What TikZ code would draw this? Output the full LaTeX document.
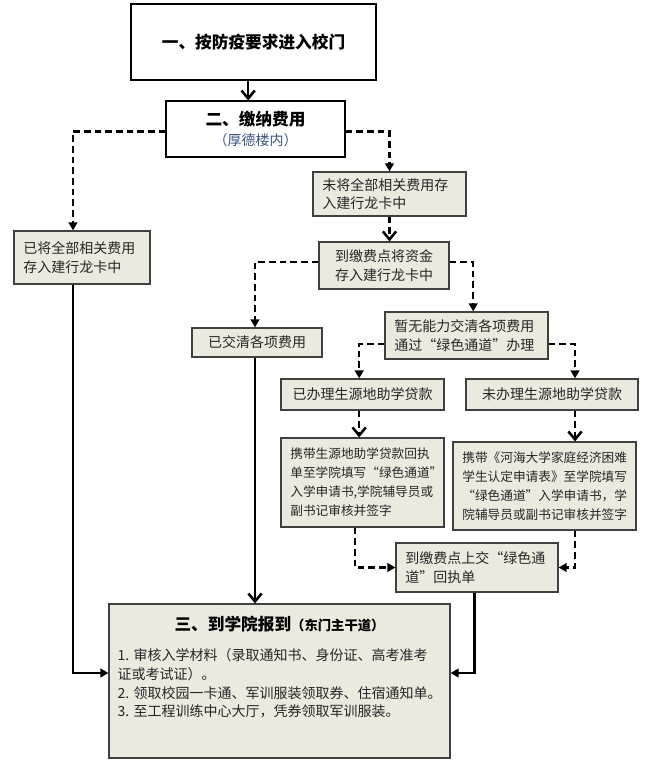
\documentclass[tikz,border=0pt]{standalone}
\usepackage{fontspec}
\setmainfont{Noto Sans CJK SC}
\usetikzlibrary{arrows.meta,positioning,calc}
\definecolor{boxfill}{RGB}{236,233,223}
\definecolor{boxline}{RGB}{64,64,64}
\definecolor{notecol}{RGB}{60,85,135}

\begin{document}
\begin{tikzpicture}[x=0.75pt, y=-0.75pt,
    topbox/.style={draw=black, fill=white, line width=0.8pt, align=center},
    box/.style={draw=boxline, fill=boxfill, line width=0.9pt, inner xsep=7pt, inner ysep=3pt,
      align=left, text=black!85, font=\fontsize{10.5}{14}\selectfont},
    smallbox/.style={box, font=\fontsize{9.5}{14.3}\selectfont},
    headfont/.style={font=\fontsize{12.5}{15}\selectfont\bfseries},
    flow/.style={line width=1.9pt, -{Triangle[length=6pt,width=6.5pt]}},
    flowv/.style={line width=1.9pt, -{Straight Barb[length=6pt,width=10pt,line width=1.9pt]}},
    dashflow/.style={flow, dash pattern=on 5pt off 3pt},
    dashflowv/.style={flowv, dash pattern=on 5pt off 3pt}]
    \useasboundingbox (0,0) rectangle (661,770);

    % entering and paying
    \node[topbox, headfont, minimum width=183.75pt, minimum height=57pt] (enter) at (253.5,42) {一、按防疫要求进入校门};
    \node[topbox, minimum width=134.25pt, minimum height=42pt] (fee) at (255.5,129)
      {{\fontsize{12.5}{15}\selectfont\bfseries 二、缴纳费用}\\[3pt]{\color{notecol}\fontsize{10.5}{12}\selectfont（厚德楼内）}};

    % money on the card or not
    \node[box, text width=88pt, minimum height=39.75pt] (paid) at (82,257.5) {已将全部相关费用\\存入建行龙卡中};
    \node[box, text width=100.75pt, minimum height=33pt] (unpaid) at (389.5,194) {未将全部相关费用存\\入建行龙卡中};
    \node[box, align=center, text width=83.5pt, minimum height=35.25pt] (deposit) at (384,265.5) {到缴费点将资金\\存入建行龙卡中};
    \node[box, align=center, text width=83.5pt, minimum height=21.75pt] (cleared) at (257,342.5) {已交清各项费用};
    \node[box, text width=108.25pt, minimum height=35.25pt] (green) at (466.5,335.5) {暂无能力交清各项费用\\通过“绿色通道”办理};

    % green channel
    \node[box, align=center, text width=108.25pt, minimum height=23.25pt] (loan) at (362.5,394.5) {已办理生源地助学贷款};
    \node[box, align=center, text width=115pt, minimum height=23.25pt] (noloan) at (552,394.5) {未办理生源地助学贷款};
    \node[smallbox, text width=108.25pt, minimum height=66.75pt] (loanform) at (362.5,482.5)
      {携带生源地助学贷款回执\\单至学院填写“绿色通道”\\入学申请书,学院辅导员或\\副书记审核并签字};
    \node[smallbox, text width=123.25pt, minimum height=66pt] (noloanform) at (544.5,486)
      {携带《河海大学家庭经济困难\\学生认定申请表》至学院填写\\“绿色通道”入学申请书，学\\院辅导员或副书记审核并签字};
    \node[box, text width=107.5pt, minimum height=36.75pt] (receipt) at (477,567.5) {到缴费点上交“绿色通\\道”回执单};

    % reporting
    \node[box, minimum width=255.75pt, minimum height=115.5pt] (report) at (279.5,681) {};
    \node[headfont, below=6pt of report.north] (reporttitle) {三、到学院报到{\fontsize{10}{12}\selectfont（东门主干道）}};
    \node[anchor=north west, align=left, inner sep=0pt, text=black!85, font=\fontsize{10.5}{14}\selectfont] (reportlist)
      at ([shift={(6.75pt,-34pt)}]report.north west)
      {1. 审核入学材料（录取通知书、身份证、高考准考\\证或考试证）。\\2. 领取校园一卡通、军训服装领取券、住宿通知单。\\3. 至工程训练中心大厅，凭券领取军训服装。};

    % connectors
    \draw[flowv] ([xshift=-4pt]enter.south) -- ([xshift=-4pt]enter.south |- fee.north);
    \draw[dashflow] ([yshift=-2pt]fee.west) -| ([xshift=-6.75pt]paid.north);
    \draw[dashflow] ([yshift=-2pt]fee.east) -| (unpaid.north);
    \draw[dashflowv] (unpaid.south) -- (unpaid.south |- deposit.north);
    \draw[dashflow] ([yshift=2.5pt]deposit.west) -| ([xshift=-1.5pt]cleared.north);
    \draw[dashflow] ([yshift=2.5pt]deposit.east) -| ([xshift=5pt]green.north);
    \draw[dashflow] ([yshift=-6.4pt]green.west) -| ([xshift=-2.5pt]loan.north);
    \draw[dashflow] ([yshift=-6.4pt]green.east) -| ([xshift=17.25pt]noloan.north);
    \draw[dashflowv] ([xshift=-2.5pt]loan.south) -- ([xshift=-2.5pt]loan.south |- loanform.north);
    \draw[dashflowv] ([xshift=17.25pt]noloan.south) -- ([xshift=17.25pt]noloan.south |- noloanform.north);
    \draw[dashflow] ([xshift=-5.6pt]loanform.south) |- (receipt.west);
    \draw[dashflow] ([xshift=22.9pt]noloanform.south) |- (receipt.east);
    \draw[flow] ([xshift=-2pt]receipt.south) |- ([yshift=6pt]report.east);
    \draw[flow] ([xshift=-6.75pt]paid.south) |- ([yshift=6pt]report.west);
    \draw[flowv] ([xshift=-1.5pt]cleared.south) -- ([xshift=-1.5pt]cleared.south |- report.north);
\end{tikzpicture}
\end{document}
